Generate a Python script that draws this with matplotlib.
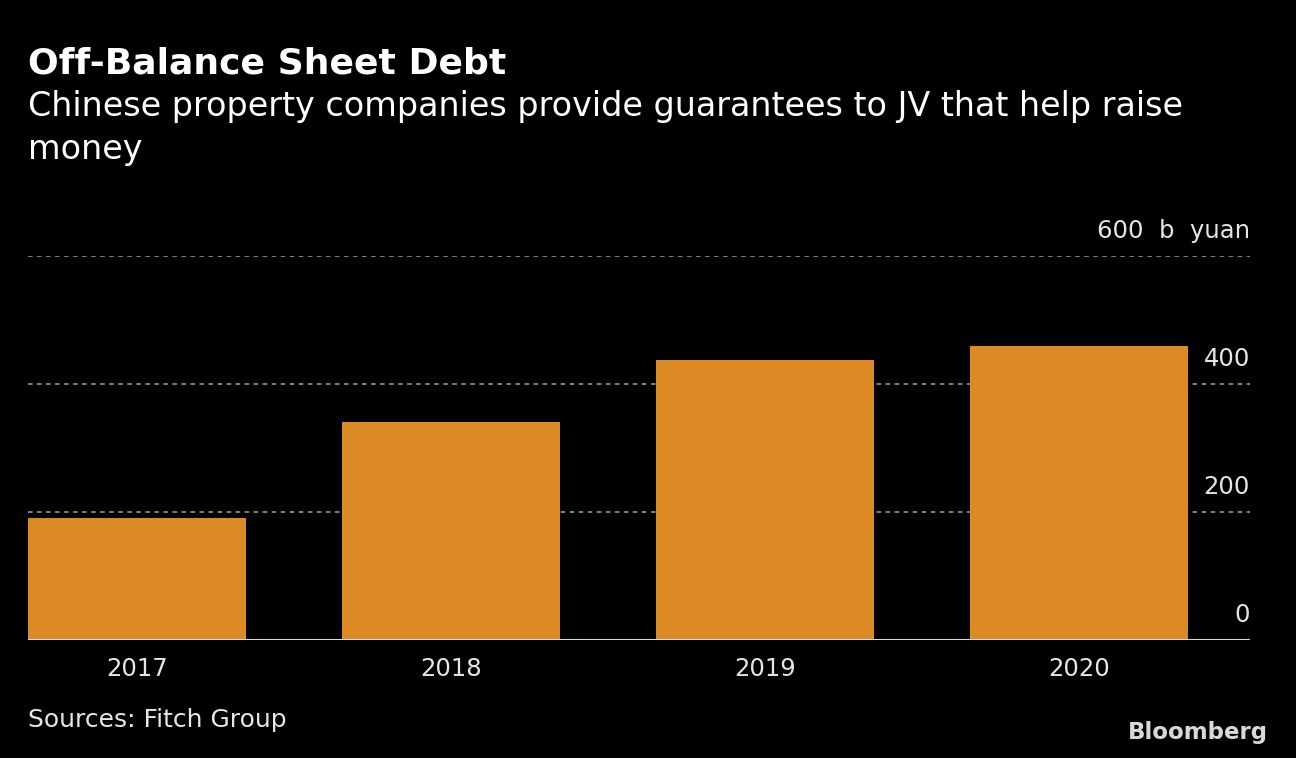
import matplotlib.pyplot as plt

years = ["2017", "2018", "2019", "2020"]
debt = [190, 340, 437, 459]  # b yuan
yticks = [0, 200, 400, 600]
ytick_labels = ["0", "200", "400", "600  b  yuan"]

title = "Off-Balance Sheet Debt"
subtitle = "Chinese property companies provide guarantees to JV that help raise\nmoney"
source = "Sources: Fitch Group"

plt.rcParams["font.family"] = ["DejaVu Sans"]

W, H = 1296, 758
fig = plt.figure(figsize=(W / 100, H / 100), dpi=100, facecolor="black")
ax = fig.add_axes([28 / W, 1 - 640 / H, (1250 - 28) / W, (640 - 256) / H])
ax.set_facecolor("black")

x = range(len(years))
ax.bar(x, debt, width=0.694, color="#DB8A24", zorder=3)
ax.set_xlim(-0.347, 3.545)
ax.set_ylim(0, 600)

for t in yticks[1:]:
    ax.axhline(t, color="#8a8a8a", lw=1.3, ls=(0, (2.5, 2.5)), zorder=1)
ax.axhline(0, color="#d9d9d9", lw=1.5, zorder=4)

for t, lab in zip(yticks, ytick_labels):
    ax.text(1.0, t + 20, lab, transform=ax.get_yaxis_transform(), ha="right",
            va="bottom", color="#e6e6e6", fontsize=17.5)

ax.set_xticks(list(x))
ax.set_xticklabels(years, color="#e6e6e6", fontsize=17.5)
ax.tick_params(axis="x", length=0, pad=12)
ax.set_yticks([])
for s in ax.spines.values():
    s.set_visible(False)

fig.text(28 / W, 1 - 63 / H, title, color="white", fontsize=26, weight="bold", va="center")
fig.text(28 / W, 1 - 90 / H, subtitle, color="white", fontsize=24, va="top",
         linespacing=1.37)
fig.text(28 / W, 1 - 720 / H, source, color="#e6e6e6", fontsize=18, va="center")
fig.text(1268 / W, 1 - 732 / H, "Bloomberg", color="#d9d9d9", fontsize=16.5, weight="bold",
         ha="right", va="center")

fig.savefig("out.png", dpi=100, facecolor="black")
